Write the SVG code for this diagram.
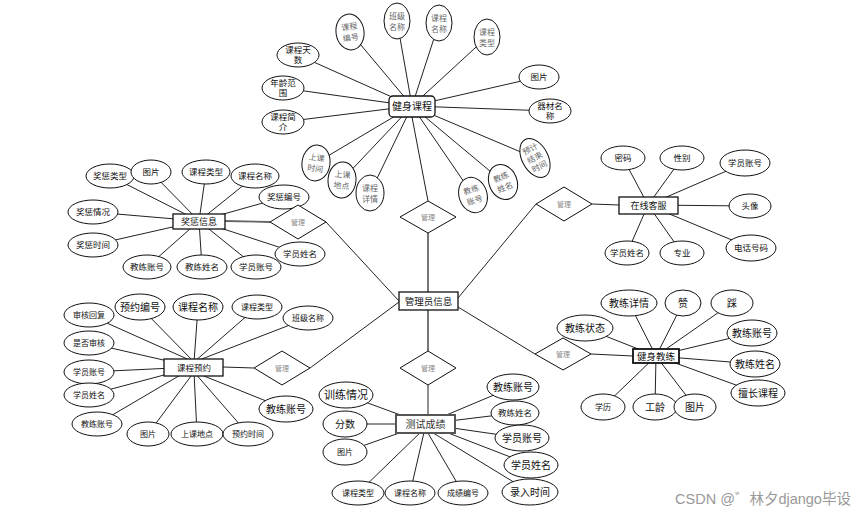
<svg xmlns="http://www.w3.org/2000/svg" width="865" height="515" viewBox="0 0 865 515">
<style>
text{font-family:"Liberation Sans","Noto Sans CJK SC",sans-serif;text-anchor:middle;dominant-baseline:central;fill:#111}
ellipse{fill:#fff;stroke:#111;stroke-width:1}
.box{fill:#fff;stroke:#111;stroke-width:1.3}
.dia{fill:#fff;stroke:#111;stroke-width:1}
.dt{font-size:7px;fill:#888}
.v text{font-size:8px;fill:#666}
.s text{font-size:8.5px}
.m text{font-size:10px}
.ln line{stroke:#222;stroke-width:1}
.thick{stroke:#666 !important;stroke-width:1.8 !important}
.et{font-size:10px}
</style>
<rect width="865" height="515" fill="#fff"/>
<g id="connectors" class="ln">
<line x1="412" y1="106" x2="350" y2="32"/><line x1="412" y1="106" x2="397" y2="21"/><line x1="412" y1="106" x2="439" y2="23"/><line x1="412" y1="106" x2="487" y2="37"/>
<line x1="412" y1="106" x2="298" y2="55"/><line x1="412" y1="106" x2="283" y2="88"/><line x1="412" y1="106" x2="283" y2="122"/><line x1="412" y1="106" x2="539" y2="77"/><line x1="412" y1="106" x2="550" y2="111"/>
<line x1="412" y1="106" x2="316" y2="163"/><line x1="412" y1="106" x2="342" y2="180"/><line x1="412" y1="106" x2="370" y2="193"/><line x1="412" y1="106" x2="473" y2="195"/><line x1="412" y1="106" x2="503" y2="182"/><line x1="412" y1="106" x2="535" y2="158"/>
<line class="thick" x1="428" y1="301" x2="428" y2="233"/><line x1="428" y1="201" x2="412" y2="117"/>
<line class="thick" x1="428" y1="301" x2="428" y2="351"/><line x1="428" y1="385" x2="428" y2="415"/>
<line class="thick" x1="225" y1="221" x2="270" y2="222"/><line x1="326" y1="222" x2="399" y2="301"/><line x1="300" y1="208" x2="326" y2="222"/>
<line x1="223" y1="367" x2="254" y2="368"/><line x1="310" y1="368" x2="399" y2="302"/>
<line x1="458" y1="298" x2="536" y2="204"/><line x1="592" y1="204" x2="619" y2="205"/>
<line x1="458" y1="307" x2="535" y2="354"/><line x1="591" y1="354" x2="633" y2="356"/>
<line x1="199" y1="221" x2="110" y2="176"/><line x1="199" y1="221" x2="151" y2="172"/><line x1="199" y1="221" x2="206" y2="172"/><line x1="199" y1="221" x2="255" y2="176"/><line x1="199" y1="221" x2="284" y2="197"/>
<line x1="199" y1="221" x2="93" y2="212"/><line x1="199" y1="221" x2="93" y2="245"/><line x1="199" y1="221" x2="147" y2="267"/><line x1="199" y1="221" x2="202" y2="267"/><line x1="199" y1="221" x2="256" y2="267"/><line x1="199" y1="221" x2="300" y2="254"/>
<line x1="194" y1="362" x2="89" y2="315"/><line x1="194" y1="362" x2="140" y2="307"/><line x1="194" y1="362" x2="198" y2="307"/><line x1="194" y1="362" x2="257" y2="307"/><line x1="194" y1="362" x2="308" y2="318"/>
<line x1="194" y1="367" x2="89" y2="343"/><line x1="194" y1="367" x2="89" y2="372"/><line x1="194" y1="367" x2="89" y2="395"/><line x1="194" y1="367" x2="97" y2="424"/>
<line x1="194" y1="372" x2="148" y2="434"/><line x1="194" y1="372" x2="197" y2="434"/><line x1="194" y1="372" x2="248" y2="434"/><line x1="194" y1="372" x2="286" y2="409"/>
<line x1="648" y1="205" x2="623" y2="158"/><line x1="648" y1="205" x2="682" y2="158"/><line x1="648" y1="205" x2="745" y2="163"/><line x1="648" y1="205" x2="750" y2="206"/><line x1="648" y1="205" x2="751" y2="248"/><line x1="648" y1="205" x2="627" y2="253"/><line x1="648" y1="205" x2="682" y2="253"/>
<line x1="656" y1="356" x2="629" y2="303"/><line x1="656" y1="356" x2="683" y2="303"/><line x1="656" y1="356" x2="732" y2="303"/><line x1="656" y1="356" x2="585" y2="328"/><line x1="656" y1="356" x2="752" y2="333"/><line x1="656" y1="356" x2="755" y2="364"/><line x1="656" y1="356" x2="758" y2="393"/><line x1="656" y1="356" x2="603" y2="407"/><line x1="656" y1="356" x2="655" y2="407"/><line x1="656" y1="356" x2="695" y2="407"/>
<line x1="425" y1="424" x2="346" y2="395"/><line x1="425" y1="424" x2="345" y2="424"/><line x1="425" y1="424" x2="345" y2="452"/><line x1="425" y1="424" x2="513" y2="387"/><line x1="425" y1="424" x2="515" y2="413"/><line x1="425" y1="424" x2="522" y2="438"/><line x1="425" y1="424" x2="531" y2="465"/><line x1="425" y1="428" x2="530" y2="492"/><line x1="425" y1="428" x2="358" y2="493"/><line x1="425" y1="428" x2="410" y2="493"/><line x1="425" y1="428" x2="463" y2="493"/>
</g>

<g class="v">
<g id="kc-bh" transform="translate(350,32) rotate(-8)"><ellipse rx="14" ry="18"/><text y="-5">课程</text><text y="6">编号</text></g>
<g id="kc-bj" transform="translate(397,21)"><ellipse rx="13" ry="18"/><text y="-5">班级</text><text y="6">名称</text></g>
<g id="kc-mc" transform="translate(439,23)"><ellipse rx="13" ry="18"/><text y="-5">课程</text><text y="6">名称</text></g>
<g id="kc-lx" transform="translate(487,37)"><ellipse rx="13" ry="18"/><text y="-5">课程</text><text y="6">类型</text></g>
<g id="kc-sksj" transform="translate(316,163) rotate(8)"><ellipse rx="14" ry="18"/><text y="-5">上课</text><text y="6">时间</text></g>
<g id="kc-skdd" transform="translate(342,180) rotate(5)"><ellipse rx="14" ry="18"/><text y="-5">上课</text><text y="6">地点</text></g>
<g id="kc-xq" transform="translate(370,193)"><ellipse rx="14" ry="18"/><text y="-5">课程</text><text y="6">详情</text></g>
<g id="kc-jlzh" transform="translate(473,195) rotate(-18)"><ellipse rx="14" ry="18"/><text y="-5">教练</text><text y="6">账号</text></g>
<g id="kc-jlxm" transform="translate(503,182) rotate(-22)"><ellipse rx="14" ry="18"/><text y="-5">教练</text><text y="6">姓名</text></g>
<g id="kc-yj" transform="translate(535,158) rotate(-28)"><ellipse rx="13" ry="21"/><text y="-10">预计</text><text y="0">结束</text><text y="10">时间</text></g>
</g>
<g class="s">
<g id="kc-ts"><ellipse cx="298" cy="55" rx="21" ry="12"/><text x="298" y="50">课程天</text><text x="298" y="60">数</text></g>
<g id="kc-nl"><ellipse cx="283" cy="88" rx="21" ry="12"/><text x="283" y="83">年龄范</text><text x="283" y="93">围</text></g>
<g id="kc-jj"><ellipse cx="283" cy="122" rx="21" ry="12"/><text x="283" y="117">课程简</text><text x="283" y="127">介</text></g>
<g id="kc-tp"><ellipse cx="539" cy="77" rx="20" ry="12"/><text x="539" y="77">图片</text></g>
<g id="kc-qc"><ellipse cx="550" cy="111" rx="21" ry="12"/><text x="550" y="106">器材名</text><text x="550" y="116">称</text></g>
</g>
<g id="jianshenkecheng"><rect class="box" x="389" y="96" width="46" height="21" rx="4"/><text class="et" x="412" y="106.5">健身课程</text></g>

<g class="s">
<g id="jc-lx"><ellipse cx="110" cy="176" rx="24" ry="12"/><text x="110" y="176">奖惩类型</text></g>
<g id="jc-tp"><ellipse cx="151" cy="172" rx="20" ry="12"/><text x="151" y="172">图片</text></g>
<g id="jc-kclx"><ellipse cx="206" cy="172" rx="24" ry="12"/><text x="206" y="172">课程类型</text></g>
<g id="jc-kcmc"><ellipse cx="255" cy="176" rx="24" ry="12"/><text x="255" y="176">课程名称</text></g>
<g id="jc-bh"><ellipse cx="284" cy="197" rx="25" ry="12"/><text x="284" y="197">奖惩编号</text></g>
<g id="jc-qk"><ellipse cx="93" cy="212" rx="25" ry="12"/><text x="93" y="212">奖惩情况</text></g>
<g id="jc-sj"><ellipse cx="93" cy="245" rx="25" ry="12"/><text x="93" y="245">奖惩时间</text></g>
<g id="jc-jlzh"><ellipse cx="147" cy="267" rx="24" ry="12"/><text x="147" y="267">教练账号</text></g>
<g id="jc-jlxm"><ellipse cx="202" cy="267" rx="25" ry="12"/><text x="202" y="267">教练姓名</text></g>
<g id="jc-xyzh"><ellipse cx="256" cy="267" rx="25" ry="12"/><text x="256" y="267">学员账号</text></g>
<g id="jc-xyxm"><ellipse cx="300" cy="254" rx="25" ry="12"/><text x="300" y="254">学员姓名</text></g>
</g>
<g id="jiangchengxinxi"><rect class="box" x="173" y="214" width="52" height="15"/><text class="et" x="199" y="221.5" style="font-size:9px">奖惩信息</text></g>
<g id="d-jc"><polygon class="dia" points="270,222 298,205 326,222 298,239"/><text class="dt" x="298" y="222">管理</text></g>

<g class="s">
<g id="yy-hf"><ellipse cx="89" cy="315" rx="25" ry="12"/><text x="89" y="315" style="font-size:8px">审核回复</text></g>
<g id="yy-bh"><ellipse cx="140" cy="307" rx="25" ry="13"/><text x="140" y="307" style="font-size:10px">预约编号</text></g>
<g id="yy-mc"><ellipse cx="198" cy="307" rx="25" ry="13"/><text x="198" y="307" style="font-size:10px">课程名称</text></g>
<g id="yy-lx"><ellipse cx="257" cy="307" rx="25" ry="12"/><text x="257" y="307" style="font-size:8px">课程类型</text></g>
<g id="yy-bj"><ellipse cx="308" cy="318" rx="25" ry="12"/><text x="308" y="318" style="font-size:8px">班级名称</text></g>
<g id="yy-sh"><ellipse cx="89" cy="343" rx="25" ry="12"/><text x="89" y="343" style="font-size:8px">是否审核</text></g>
<g id="yy-xyzh"><ellipse cx="89" cy="372" rx="25" ry="12"/><text x="89" y="372" style="font-size:8px">学员账号</text></g>
<g id="yy-xyxm"><ellipse cx="89" cy="395" rx="25" ry="12"/><text x="89" y="395" style="font-size:8px">学员姓名</text></g>
<g id="yy-jlzh1"><ellipse cx="97" cy="424" rx="25" ry="12"/><text x="97" y="424" style="font-size:8px">教练账号</text></g>
<g id="yy-tp"><ellipse cx="148" cy="434" rx="21" ry="12"/><text x="148" y="434" style="font-size:8px">图片</text></g>
<g id="yy-dd"><ellipse cx="197" cy="434" rx="26" ry="12"/><text x="197" y="434" style="font-size:8px">上课地点</text></g>
<g id="yy-sj"><ellipse cx="248" cy="434" rx="25" ry="12"/><text x="248" y="434" style="font-size:8px">预约时间</text></g>
<g id="yy-jlzh2"><ellipse cx="286" cy="409" rx="27" ry="13"/><text x="286" y="409" style="font-size:10px">教练账号</text></g>
</g>
<g id="kechengyuyue"><rect class="box" x="164" y="359" width="59" height="17"/><text x="194" y="367.5" style="font-size:8.5px">课程预约</text></g>
<g id="d-yy"><polygon class="dia" points="254,368 282,351 310,368 282,385"/><text class="dt" x="282" y="368">管理</text></g>

<g class="s">
<g id="kf-mm"><ellipse cx="623" cy="158" rx="22" ry="12"/><text x="623" y="158">密码</text></g>
<g id="kf-xb"><ellipse cx="682" cy="158" rx="22" ry="12"/><text x="682" y="158">性别</text></g>
<g id="kf-xyzh"><ellipse cx="745" cy="163" rx="25" ry="13"/><text x="745" y="163">学员账号</text></g>
<g id="kf-tx"><ellipse cx="750" cy="206" rx="21" ry="12"/><text x="750" y="206">头像</text></g>
<g id="kf-dh"><ellipse cx="751" cy="248" rx="25" ry="13"/><text x="751" y="248">电话号码</text></g>
<g id="kf-xm"><ellipse cx="627" cy="253" rx="22" ry="12"/><text x="627" y="253">学员姓名</text></g>
<g id="kf-zy"><ellipse cx="682" cy="253" rx="22" ry="12"/><text x="682" y="253">专业</text></g>
</g>
<g id="zaixiankefu"><rect class="box" x="619" y="197" width="59" height="17"/><text x="648.5" y="205.5" style="font-size:9px">在线客服</text></g>
<g id="d-kf"><polygon class="dia" points="536,204 564,187 592,204 564,221"/><text class="dt" x="564" y="204">管理</text></g>

<g class="m">
<g id="jl-xq"><ellipse cx="629" cy="303" rx="28" ry="13"/><text x="629" y="303">教练详情</text></g>
<g id="jl-z"><ellipse cx="683" cy="303" rx="18" ry="13"/><text x="683" y="303">赞</text></g>
<g id="jl-c"><ellipse cx="732" cy="303" rx="21" ry="13"/><text x="732" y="303">踩</text></g>
<g id="jl-zt"><ellipse cx="585" cy="328" rx="28" ry="13"/><text x="585" y="328">教练状态</text></g>
<g id="jl-zh"><ellipse cx="752" cy="333" rx="25" ry="13"/><text x="752" y="333">教练账号</text></g>
<g id="jl-xm"><ellipse cx="755" cy="364" rx="25" ry="13"/><text x="755" y="364">教练姓名</text></g>
<g id="jl-sc"><ellipse cx="758" cy="393" rx="27" ry="13"/><text x="758" y="393">擅长课程</text></g>
<g id="jl-xl"><ellipse cx="603" cy="407" rx="22" ry="13"/><text x="603" y="407" style="font-size:8px">学历</text></g>
<g id="jl-gl"><ellipse cx="655" cy="407" rx="22" ry="13"/><text x="655" y="407">工龄</text></g>
<g id="jl-tp"><ellipse cx="695" cy="407" rx="21" ry="13"/><text x="695" y="407">图片</text></g>
</g>
<g id="jianshenjiaolian"><rect class="box" x="633" y="349" width="46" height="14" style="stroke-width:1.8"/><text x="656" y="356.5" style="font-size:9.5px">健身教练</text></g>
<g id="d-jl"><polygon class="dia" points="535,354 563,338 591,354 563,370"/><text class="dt" x="563" y="354">管理</text></g>

<g class="m">
<g id="cj-xl"><ellipse cx="346" cy="395" rx="27" ry="13"/><text x="346" y="395" style="font-size:11px">训练情况</text></g>
<g id="cj-fs"><ellipse cx="345" cy="424" rx="22" ry="13"/><text x="345" y="424">分数</text></g>
<g id="cj-tp"><ellipse cx="345" cy="452" rx="22" ry="13"/><text x="345" y="452" style="font-size:8px">图片</text></g>
<g id="cj-jlzh"><ellipse cx="513" cy="387" rx="26" ry="13"/><text x="513" y="387">教练账号</text></g>
<g id="cj-jlxm"><ellipse cx="515" cy="413" rx="24" ry="12"/><text x="515" y="413" style="font-size:8.5px">教练姓名</text></g>
<g id="cj-xyzh"><ellipse cx="522" cy="438" rx="27" ry="13"/><text x="522" y="438">学员账号</text></g>
<g id="cj-xyxm"><ellipse cx="531" cy="465" rx="27" ry="13"/><text x="531" y="465">学员姓名</text></g>
<g id="cj-lr"><ellipse cx="530" cy="492" rx="28" ry="13"/><text x="530" y="492">录入时间</text></g>
<g id="cj-kclx"><ellipse cx="358" cy="493" rx="26" ry="12"/><text x="358" y="493" style="font-size:8px">课程类型</text></g>
<g id="cj-kcmc"><ellipse cx="410" cy="493" rx="25" ry="12"/><text x="410" y="493" style="font-size:8px">课程名称</text></g>
<g id="cj-bh"><ellipse cx="463" cy="493" rx="25" ry="12"/><text x="463" y="493" style="font-size:8px">成绩编号</text></g>
</g>
<g id="ceshichengji"><rect class="box" x="396" y="415" width="59" height="18" style="stroke:#555;stroke-width:2"/><text x="425.5" y="424.5" style="font-size:10px;fill:#333">测试成绩</text></g>

<g id="d-top"><polygon class="dia" points="400,217 428,201 456,217 428,233"/><text class="dt" x="428" y="217">管理</text></g>
<g id="d-bot"><polygon class="dia" points="400,368 428,351 456,368 428,385"/><text class="dt" x="428" y="368">管理</text></g>
<g id="guanliyuanxinxi"><rect class="box" x="399" y="292" width="59" height="18"/><text x="428.5" y="301.5" style="font-size:9.5px">管理员信息</text></g>

<text x="763" y="499" style="font-size:14.5px;fill:#999">CSDN @゛林夕django毕设</text>
</svg>
